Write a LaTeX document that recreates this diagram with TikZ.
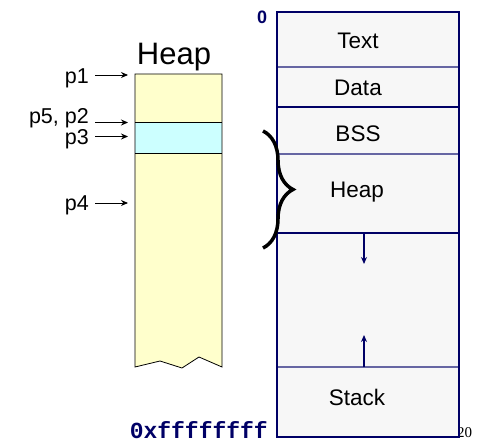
\documentclass[tikz,border=0pt]{standalone}
\usepackage{fontspec}
\setmainfont{Liberation Sans}
\newfontfamily\codefont{Liberation Mono}
\newfontfamily\numfont{Liberation Serif}
\usetikzlibrary{arrows.meta,decorations.pathreplacing}
\definecolor{heapyellow}{HTML}{FFFFCC}
\definecolor{heapblue}{HTML}{CCFFFF}
\definecolor{segfill}{HTML}{F7F7F7}
\definecolor{navy}{HTML}{000066}
\definecolor{seglight}{HTML}{6666A3}
\tikzset{
  lbl/.style={font=\fontsize{22.5}{25}\selectfont, inner sep=0pt},
  plbl/.style={font=\fontsize{21.5}{23}\selectfont, inner sep=0pt, anchor=base east},
  ptr/.style={-{Stealth[length=7pt,width=6pt]}, line width=0.9pt},
  seglt/.style={seglight, line width=1.2pt},
  segdk/.style={navy, line width=1.2pt},
  growth/.style={navy, line width=1.2pt, -{Stealth[length=7pt,width=6pt]}},
  heapedge/.style={line width=0.8pt},
}
\begin{document}
\begin{tikzpicture}[x=1pt,y=-1pt]
\useasboundingbox (0,0) rectangle (478,443);

% slide number, partly covered by the address space
\node[anchor=base west, inner sep=0pt, font=\numfont\fontsize{15}{16}\selectfont] (pg) at (457,437) {20};

% ---- heap close-up ----
\fill[heapyellow] (135,74) -- (222,74) -- (222,367) -- (199,357) -- (182,368) -- (160,361) -- (135,367) -- cycle;
\fill[heapblue] (135,122) rectangle (222,153);
\draw[heapedge] (135,122) -- (222,122);
\draw[heapedge] (135,153) -- (222,153);
\draw[heapedge] (135,74) -- (222,74) -- (222,367) -- (199,357) -- (182,368) -- (160,361) -- (135,367) -- cycle;
\node[font=\fontsize{31}{34}\selectfont, inner sep=0pt, anchor=base] (heaptitle) at (174,65) {Heap};

% pointers into the heap
\node[plbl] (p1) at (89,83.5) {p1};
\node[plbl] (p52) at (89,124) {p5, p2};
\node[plbl] (p3) at (89,145) {p3};
\node[plbl] (p4) at (89,211) {p4};
\coordinate (s1) at (95,75);
\coordinate (s2) at (95,122.5);
\coordinate (s3) at (95,136.5);
\coordinate (s4) at (95,203);
\coordinate (a1) at (128,75);
\coordinate (a2) at (128,122.5);
\coordinate (a3) at (128,136.5);
\coordinate (a4) at (128,203);
\draw[ptr] (s1) -- (a1);
\draw[ptr] (s2) -- (a2);
\draw[ptr] (s3) -- (a3);
\draw[ptr] (s4) -- (a4);

% ---- address space ----
\fill[segfill] (277,12) rectangle (459,437);
\draw[seglt] (277,67) -- (459,67);
\draw[segdk] (277,107) -- (459,107);
\draw[seglt] (277,154) -- (459,154);
\draw[segdk] (277,233) -- (459,233);
\draw[seglt] (277,367) -- (459,367);
\draw[navy, line width=2.6pt] (277,12) rectangle (459,437);

\node[lbl] (text) at (358,41) {Text};
\node[lbl] (data) at (358,88) {Data};
\node[lbl] (bss) at (358,134) {BSS};
\node[lbl] (heap) at (357,192) {Heap};
\node[lbl] (stack) at (357,397) {Stack};

\coordinate (hs) at (364,233);
\coordinate (he) at (364,264);
\coordinate (ss) at (364,367);
\coordinate (se) at (364,335);
\draw[growth] (hs) -- (he);
\draw[growth] (ss) -- (se);

\node[navy, font=\bfseries\fontsize{18}{20}\selectfont, inner sep=0pt] (zero) at (262,17) {0};
\node[navy, anchor=base east, inner sep=0pt, font=\codefont\bfseries\fontsize{23}{25}\selectfont] (top) at (268,438) {0xffffffff};

% brace marking the heap segment
\draw[decorate, decoration={brace, amplitude=30pt}, line width=3.5pt] (263,131) -- (263,248);
\end{tikzpicture}
\end{document}
